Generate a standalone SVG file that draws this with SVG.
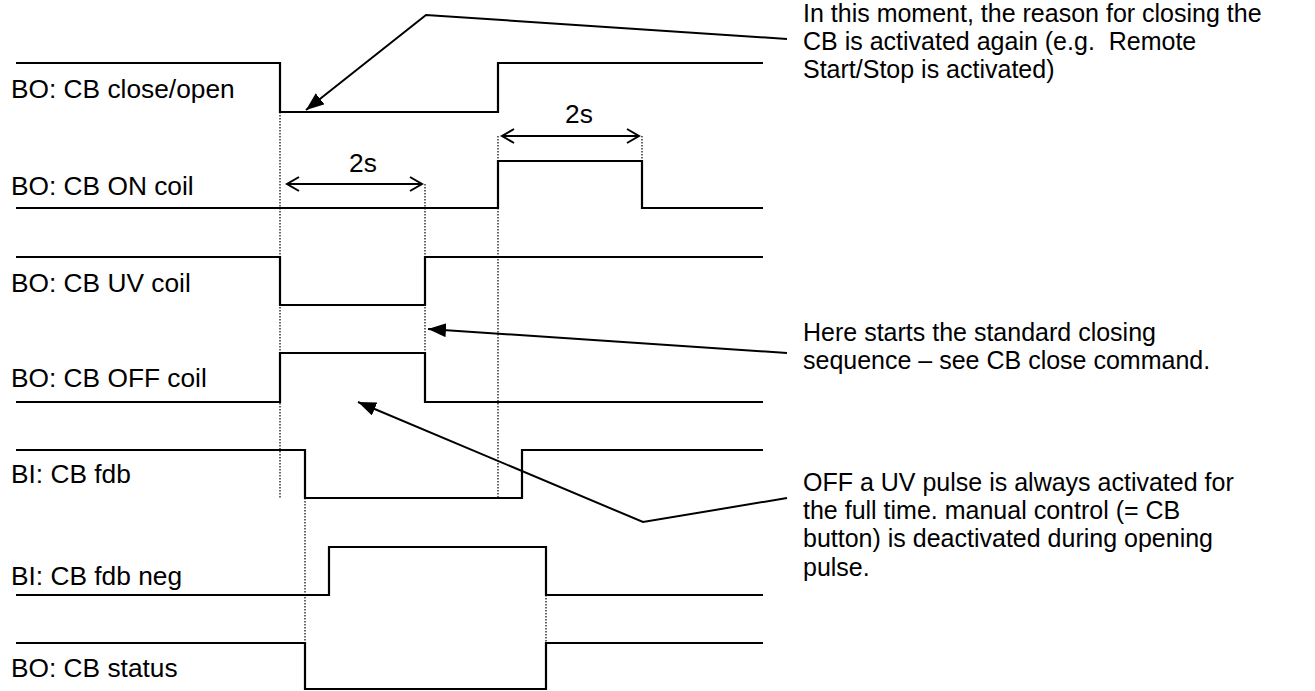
<svg xmlns="http://www.w3.org/2000/svg" width="1315" height="691" viewBox="0 0 1315 691">
<style>
text{font-family:"Liberation Sans",Arial,sans-serif;font-size:26.3px;fill:#000;white-space:pre}
.note{font-size:25px}
.sig{fill:none;stroke:#000;stroke-width:2.2;stroke-linejoin:miter}
.dot{fill:none;stroke:#000;stroke-width:1.2;stroke-dasharray:1.5 1.5}
.call{fill:none;stroke:#000;stroke-width:2}
.dim{fill:none;stroke:#000;stroke-width:2}
</style>
<defs>
<marker id="fa" markerUnits="userSpaceOnUse" markerWidth="20" markerHeight="16" refX="18" refY="7" orient="auto"><path d="M0,0 L18,7 L0,14 z" fill="#000"/></marker>
<marker id="oa" markerUnits="userSpaceOnUse" markerWidth="16" markerHeight="20" refX="13" refY="8" orient="auto-start-reverse"><path d="M1,1 L13,8 L1,15" fill="none" stroke="#000" stroke-width="2"/></marker>
</defs>
<g id="guides">
<path class="dot" d="M280,112 V498"/>
<path class="dot" d="M425,184 V353"/>
<path class="dot" d="M498,136 V497"/>
<path class="dot" d="M642,136 V160"/>
<path class="dot" d="M305,498 V643"/>
<path class="dot" d="M546,595 V643"/>
</g>
<g id="sig-closeopen"><text x="11" y="98">BO: CB close/open</text><path class="sig" d="M16,63 H280 V112 H498 V63 H763"/></g>
<g id="sig-oncoil"><text x="11" y="195">BO: CB ON coil</text><path class="sig" d="M16,208 H498 V161 H642 V208 H763"/></g>
<g id="sig-uvcoil"><text x="11" y="292">BO: CB UV coil</text><path class="sig" d="M16,257 H280 V305 H425 V257 H763"/></g>
<g id="sig-offcoil"><text x="11" y="387">BO: CB OFF coil</text><path class="sig" d="M16,402 H280 V353 H425 V402 H763"/></g>
<g id="sig-fdb"><text x="11" y="483">BI: CB fdb</text><path class="sig" d="M16,450 H305 V498 H522 V450 H763"/></g>
<g id="sig-fdbneg"><text x="11" y="585">BI: CB fdb neg</text><path class="sig" d="M16,595 H329 V547 H546 V595 H763"/></g>
<g id="sig-status"><text x="11" y="677">BO: CB status</text><path class="sig" d="M16,643 H305 V689 H546 V643 H763"/></g>
<g id="dim1"><path class="dim" d="M287,184 H422" marker-start="url(#oa)" marker-end="url(#oa)"/><text x="363" y="172" text-anchor="middle">2s</text></g>
<g id="dim2"><path class="dim" d="M502,136 H639" marker-start="url(#oa)" marker-end="url(#oa)"/><text x="579" y="123" text-anchor="middle">2s</text></g>
<g id="connectors">
<path class="call" d="M787,39 L426,15 L306,110" marker-end="url(#fa)"/>
<path class="call" d="M787,353 L428,329" marker-end="url(#fa)"/>
<path class="call" d="M787,498 L643,522 L358,402" marker-end="url(#fa)"/>
</g>
<g id="note1"><text class="note" xml:space="preserve"><tspan x="803" y="21.5">In this moment, the reason for closing the</tspan><tspan x="803" y="49.7">CB is activated again (e.g.  Remote</tspan><tspan x="803" y="77.9">Start/Stop is activated)</tspan></text></g>
<g id="note2"><text class="note"><tspan x="803" y="341">Here starts the standard closing</tspan><tspan x="803" y="369.2">sequence – see CB close command.</tspan></text></g>
<g id="note3"><text class="note"><tspan x="803" y="491">OFF a UV pulse is always activated for</tspan><tspan x="803" y="519.2">the full time. manual control (= CB</tspan><tspan x="803" y="547.4">button) is deactivated during opening</tspan><tspan x="803" y="575.6">pulse.</tspan></text></g>
</svg>
